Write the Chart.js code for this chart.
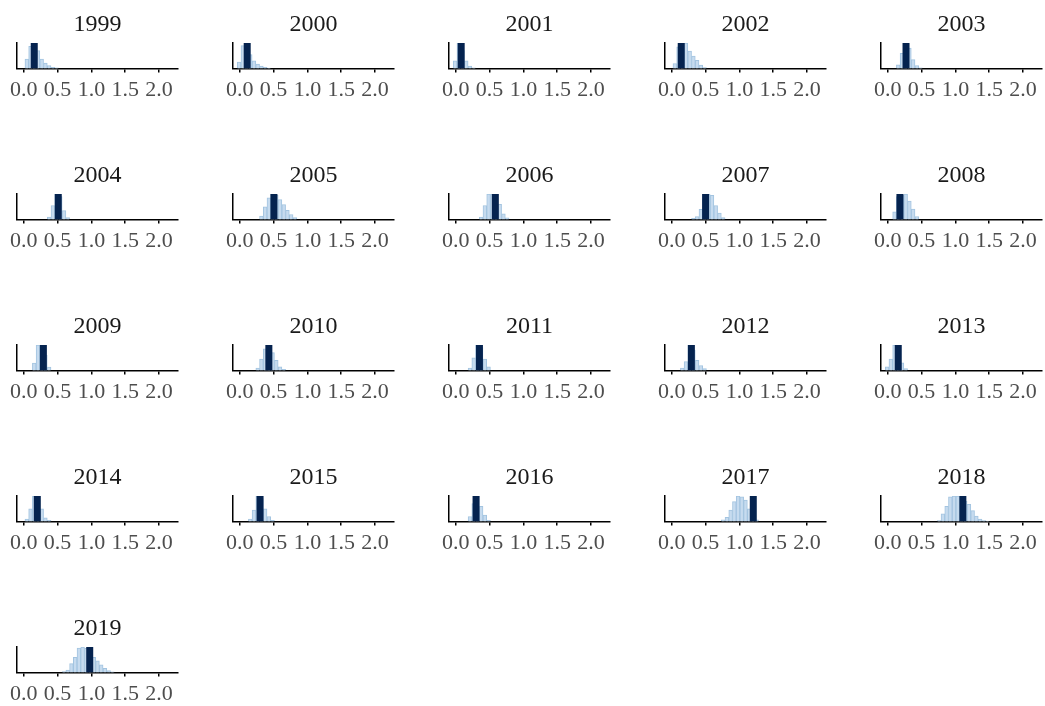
<!DOCTYPE html>
<html>
<head>
<meta charset="utf-8">
<script src="https://cdn.jsdelivr.net/npm/chart.js@4.4.1/dist/chart.umd.min.js"></script>
<style>
  html, body { margin: 0; padding: 0; background: #fff; }
  body { width: 1045px; height: 706px; position: relative; overflow: hidden; }
  .panel { position: absolute; }
</style>
</head>
<body>
<script>
// Años, uno por panel
const years = [1999, 2000, 2001, 2002, 2003, 2004, 2005, 2006, 2007, 2008,
               2009, 2010, 2011, 2012, 2013, 2014, 2015, 2016, 2017, 2018, 2019];

// Centros de los bins del histograma (compartidos por todos los paneles)
const binCenters = [-0.01, 0.045, 0.10, 0.155, 0.21, 0.265, 0.32, 0.375, 0.43, 0.485,
                    0.54, 0.595, 0.65, 0.705, 0.76, 0.815, 0.87, 0.925, 0.98, 1.035,
                    1.09, 1.145, 1.20, 1.255, 1.31, 1.365, 1.42, 1.475, 1.53];

// Alturas relativas de cada bin por año
const hist1999 = [0, 0.37, 0.87, 1, 0.7, 0.37, 0.22, 0.12, 0.05, 0.03];
const hist2000 = [0.25, 0.9, 1, 0.55, 0.3, 0.18, 0.1, 0.05, 0.02];
const hist2001 = [0.3, 1, 0.7, 0.3, 0.1, 0.03];
const hist2002 = [0, 0.2, 0.85, 1, 1, 0.68, 0.49, 0.32, 0.14, 0.04];
const hist2003 = [0, 0, 0, 0.15, 0.6, 1, 0.8, 0.35, 0.12, 0.03];
const hist2004 = [0, 0, 0, 0, 0, 0, 0, 0.1, 0.55, 1, 0.9, 0.35, 0.08];
const hist2005 = [0, 0, 0, 0, 0, 0, 0.14, 0.5, 0.85, 1, 0.95, 0.78, 0.59, 0.36, 0.2, 0.08];
const hist2006 = [0, 0, 0, 0, 0, 0, 0, 0.1, 0.55, 1, 1, 0.85, 0.6, 0.23, 0.07];
const hist2007 = [0, 0, 0, 0, 0, 0, 0.05, 0.12, 0.4, 0.8, 1, 0.95, 0.55, 0.25, 0.08];
const hist2008 = [0, 0, 0.3, 0.9, 0.95, 1, 0.72, 0.41, 0.12];
const hist2009 = [0, 0, 0, 0.29, 1, 1, 0.6, 0.14];
const hist2010 = [0, 0, 0, 0, 0, 0.1, 0.45, 0.85, 1, 0.7, 0.4, 0.15, 0.05];
const hist2011 = [0, 0, 0, 0, 0.1, 0.5, 1, 0.9, 0.45, 0.15];
const hist2012 = [0, 0, 0, 0.1, 0.35, 1, 0.8, 0.4, 0.2, 0.08];
const hist2013 = [0.15, 0.45, 1, 0.8, 0.3, 0.08];
const hist2014 = [0, 0.1, 0.5, 1, 0.9, 0.5, 0.15, 0.05];
const hist2015 = [0, 0, 0, 0.1, 0.45, 1, 0.9, 0.5, 0.2, 0.05];
const hist2016 = [0, 0, 0, 0, 0.2, 0.7, 1, 0.6, 0.25, 0.05];
const hist2017 = [0, 0, 0, 0, 0, 0, 0, 0, 0, 0, 0, 0, 0, 0, 0.07, 0.17, 0.45, 0.78, 1, 0.97, 0.84, 0.5, 0.25, 0.07];
const hist2018 = [0, 0, 0, 0, 0, 0, 0, 0, 0, 0, 0, 0, 0, 0, 0.04, 0.3, 0.6, 0.97, 1, 1, 0.9, 0.8, 0.67, 0.43, 0.22, 0.1, 0.04, 0.02];
const hist2019 = [0, 0, 0, 0, 0, 0, 0, 0, 0, 0, 0, 0.04, 0.1, 0.35, 0.6, 0.96, 1, 0.95, 0.8, 0.6, 0.46, 0.3, 0.17, 0.08, 0.03];

const histograms = [hist1999, hist2000, hist2001, hist2002, hist2003, hist2004, hist2005,
                    hist2006, hist2007, hist2008, hist2009, hist2010, hist2011, hist2012,
                    hist2013, hist2014, hist2015, hist2016, hist2017, hist2018, hist2019];

// Valor observado de cada año (barra oscura)
const observed = [0.155, 0.11, 0.08, 0.14, 0.27, 0.51, 0.505, 0.585, 0.50, 0.18,
                  0.29, 0.43, 0.35, 0.29, 0.155, 0.20, 0.30, 0.30, 1.205, 1.11, 0.975];

// Marcas del eje x
const xTicks = [0.0, 0.5, 1.0, 1.5, 2.0];

const serif = "'Liberation Serif', 'Times New Roman', serif";

years.forEach((year, i) => {
  const col = i % 5;
  const row = Math.floor(i / 5);

  const div = document.createElement('div');
  div.className = 'panel';
  div.style.left = (216 * col) + 'px';
  div.style.top = (151 * row) + 'px';
  const canvas = document.createElement('canvas');
  canvas.width = 180;
  canvas.height = 108;
  canvas.style.width = '180px';
  canvas.style.height = '108px';
  div.appendChild(canvas);
  document.body.appendChild(div);

  const bars = histograms[i]
    .map((h, k) => ({ x: binCenters[k], y: h }))
    .filter(p => p.y > 0);

  new Chart(canvas.getContext('2d'), {
    type: 'bar',
    data: {
      datasets: [
        {
          type: 'line',
          label: 'observado',
          data: [{ x: observed[i], y: 0 }, { x: observed[i], y: 1 }],
          borderColor: '#05234f',
          borderWidth: 7,
          borderCapStyle: 'butt',
          pointRadius: 0,
          order: 0
        },
        {
          label: 'simulado',
          data: bars,
          backgroundColor: '#c6dbef',
          borderColor: '#a3c4e0',
          borderWidth: 1,
          barPercentage: 1,
          categoryPercentage: 1,
          order: 1
        }
      ]
    },
    options: {
      responsive: false,
      animation: false,
      devicePixelRatio: 1,
      layout: { padding: { left: 17, right: 2, top: 0, bottom: 0 } },
      plugins: {
        legend: { display: false },
        tooltip: { enabled: false },
        title: {
          display: true,
          text: String(year),
          color: '#1a1a1a',
          font: { family: serif, size: 24, weight: 'normal' },
          padding: { top: 10.5, bottom: 3.7 }
        }
      },
      scales: {
        x: {
          type: 'linear',
          min: -0.1,
          max: 2.28,
          offset: false,
          afterBuildTicks: s => { s.ticks = xTicks.map(v => ({ value: v })); },
          ticks: {
            autoSkip: false,
            maxRotation: 0,
            padding: 4.5,
            color: '#4d4d4d',
            font: { family: serif, size: 22 },
            callback: v => Number(v).toFixed(1)
          },
          grid: {
            display: true,
            offset: false,
            drawOnChartArea: false,
            drawTicks: true,
            tickLength: 4,
            color: '#000',
            lineWidth: 1.5
          },
          border: { display: true, color: '#000', width: 1.5 }
        },
        y: {
          min: 0,
          max: 1,
          ticks: { display: false },
          grid: { display: false, drawTicks: false },
          border: { display: true, color: '#000', width: 1.5 }
        }
      }
    }
  });
});
</script>
</body>
</html>
